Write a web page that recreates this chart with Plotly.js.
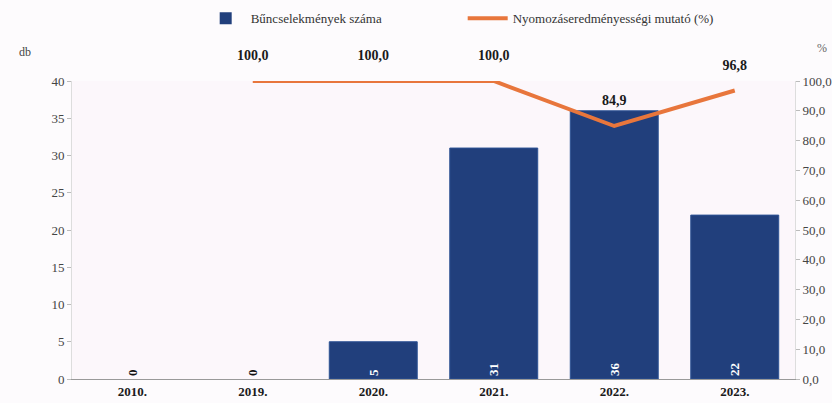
<!DOCTYPE html>
<html><head><meta charset="utf-8">
<script src="https://cdn.plot.ly/plotly-3.0.1.min.js"></script>
<style>html,body{margin:0;padding:0;background:#fdfbfd;}</style>
</head><body>
<div id="chart" style="width:832px;height:403px;"></div>
<script>
var categories = ['2010.', '2019.', '2020.', '2021.', '2022.', '2023.'];
var crimeCounts = [0, 0, 5, 31, 36, 22];
var clearanceRate = [null, 100.0, 100.0, 100.0, 84.9, 96.8];
var leftTicks = [0, 5, 10, 15, 20, 25, 30, 35, 40];
var rightTicks = [0, 10, 20, 30, 40, 50, 60, 70, 80, 90, 100];

function fmt(v){ return v === null ? '' : v.toFixed(1).replace('.', ','); }

var barTrace = {
  type: 'bar', name: 'Bűncselekmények száma',
  x: categories, y: crimeCounts,
  marker: {color: '#213f7c', line: {color: '#2d5294', width: crimeCounts.map(function(v){ return v > 0 ? 1 : 0; })}},
  text: crimeCounts.map(String),
  textposition: crimeCounts.map(function(v){ return v > 0 ? 'inside' : 'outside'; }),
  insidetextanchor: 'start',
  textangle: -90,
  textfont: {family: 'Liberation Serif', size: 13, color: crimeCounts.map(function(v){ return v > 0 ? '#ffffff' : '#111111'; }), weight: 'bold'},
  cliponaxis: false,
  hoverinfo: 'none'
};
var lineTrace = {
  type: 'scatter', mode: 'lines+markers+text', name: 'Nyomozáseredményességi mutató (%)',
  x: categories, y: clearanceRate, yaxis: 'y2',
  line: {color: '#e8763c', width: 4},
  marker: {size: 26, color: 'rgba(0,0,0,0)'},
  text: clearanceRate.map(fmt),
  textposition: 'top center',
  textfont: {family: 'Liberation Serif', size: 14, color: '#1a1a1a', weight: 'bold'},
  cliponaxis: false,
  hoverinfo: 'none'
};

var layout = {
  width: 832, height: 403,
  paper_bgcolor: '#fdfbfd', plot_bgcolor: '#fcf7fb',
  margin: {l: 72, r: 37, t: 81, b: 24, autoexpand: false},
  separators: ', ',
  bargap: 0.27,
  font: {family: 'Liberation Serif', size: 12, color: '#333'},
  showlegend: true,
  legend: {orientation: 'h', x: 0.178, xanchor: 'left', y: 1.21, yanchor: 'middle',
           font: {family: 'Liberation Serif', size: 13, color: '#333'}, itemwidth: 40,
           bgcolor: 'rgba(0,0,0,0)', entrywidth: 207},
  xaxis: {type: 'category', showline: true, linecolor: '#999', linewidth: 1, ticks: '',
          tickfont: {family: 'Liberation Serif', size: 13, color: '#1a1a1a', weight: 'bold'}, showgrid: false, fixedrange: true},
  yaxis: {range: [0, 40], tickvals: leftTicks, ticktext: leftTicks.map(String), showgrid: false, zeroline: false,
          showline: true, linecolor: '#ddd', ticks: 'outside', ticklen: 4, tickcolor: '#bbb',
          tickfont: {family: 'Liberation Serif', size: 13, color: '#444'}},
  yaxis2: {range: [0, 100], overlaying: 'y', side: 'right', tickvals: rightTicks, ticktext: rightTicks.map(fmt),
           showgrid: false, zeroline: false, showline: true, linecolor: '#ddd', ticks: 'outside', ticklen: 4, tickcolor: '#bbb',
           tickfont: {family: 'Liberation Serif', size: 13, color: '#444'}},
  annotations: [
    {text: 'db', xref: 'paper', yref: 'paper', x: -0.065, y: 1.097, xanchor: 'center', yanchor: 'middle', showarrow: false,
     font: {family: 'Liberation Serif', size: 12, color: '#444'}},
    {text: '%', xref: 'paper', yref: 'paper', x: 1.037, y: 1.11, xanchor: 'center', yanchor: 'middle', showarrow: false,
     font: {family: 'Liberation Serif', size: 12, color: '#666'}}
  ]
};

Plotly.newPlot('chart', [barTrace, lineTrace], layout, {displayModeBar: false, staticPlot: true});
</script>
</body></html>
